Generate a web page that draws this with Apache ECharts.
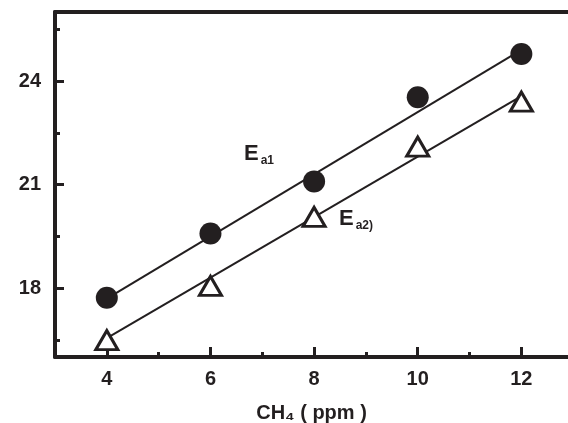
<!DOCTYPE html>
<html>
<head>
<meta charset="utf-8">
<script src="https://cdn.jsdelivr.net/npm/echarts@6/dist/echarts.min.js"></script>
<style>html,body{margin:0;padding:0;background:#fff}#c{width:568px;height:423px}</style>
</head>
<body>
<div id="c"></div>
<script>
// Data
var xValues = [4, 6, 8, 10, 12];
var filledCircles = [17.72, 19.58, 21.09, 23.53, 24.78];
var openTriangles = [16.49, 18.06, 20.06, 22.10, 23.40];
var upperLineEnds = [[4, 17.69], [12, 24.90]];
var lowerLineEnds = [[4, 16.55], [12, 23.56]];
var xTickLabels = [4, 6, 8, 10, 12];
var xMinorTicks = [5, 7, 9, 11];
var yTickLabels = [18, 21, 24];
var yMinorTicks = [16.5, 19.5, 22.5, 25.5];
var xAxisName = 'CH\u2084 ( ppm )';
var label1 = ['E', 'a1'];
var label2 = ['E', 'a2)'];

function pairs(xs, ys) { return xs.map(function (x, i) { return [x, ys[i]]; }); }

var chart = echarts.init(document.getElementById('c'), null, { renderer: 'canvas' });
var black = '#231f20';
var font = 'Liberation Sans';
var option = {
  backgroundColor: '#fff',
  animation: false,
  grid: { left: 55, right: 0, top: 12, bottom: 66, containLabel: false, outerBoundsMode: 'none' },
  xAxis: [
    {
      type: 'value', position: 'bottom', min: 3, max: 12.9,
      axisLine: { show: true, lineStyle: { color: black, width: 4 } },
      axisTick: { show: true, inside: true, length: 10, lineStyle: { color: black, width: 3 }, customValues: xTickLabels },
      axisLabel: { show: true, customValues: xTickLabels, margin: 12, color: black, fontSize: 20, fontWeight: 'bold', fontFamily: font },
      splitLine: { show: false },
      name: xAxisName, nameLocation: 'middle', nameGap: 46,
      nameTextStyle: { color: black, fontSize: 20, fontWeight: 'bold', fontFamily: font }
    },
    {
      type: 'value', position: 'bottom', offset: 0, min: 3, max: 12.9,
      axisLine: { show: false },
      axisTick: { show: true, inside: true, length: 5, lineStyle: { color: black, width: 3 }, customValues: xMinorTicks },
      axisLabel: { show: false }, splitLine: { show: false }
    },
    {
      type: 'value', position: 'top', min: 3, max: 12.9,
      axisLine: { show: true, lineStyle: { color: black, width: 4 } },
      axisTick: { show: false }, axisLabel: { show: false }, splitLine: { show: false }
    }
  ],
  yAxis: [
    {
      type: 'value', position: 'left', min: 16, max: 26,
      axisLine: { show: true, lineStyle: { color: black, width: 4 } },
      axisTick: { show: true, inside: true, length: 9, lineStyle: { color: black, width: 3 }, customValues: yTickLabels },
      axisLabel: { show: true, customValues: yTickLabels, margin: 14, color: black, fontSize: 20, fontWeight: 'bold', fontFamily: font },
      splitLine: { show: false }
    },
    {
      type: 'value', position: 'left', offset: 0, min: 16, max: 26,
      axisLine: { show: false },
      axisTick: { show: true, inside: true, length: 5, lineStyle: { color: black, width: 3 }, customValues: yMinorTicks },
      axisLabel: { show: false }, splitLine: { show: false }
    }
  ],
  graphic: [
    {
      type: 'text', left: 244, top: 143, z: 10,
      style: {
        text: '{e|' + label1[0] + '}{s|' + label1[1] + '}',
        rich: {
          e: { fontSize: 22, fontFamily: font, fill: black, fontWeight: 'bold' },
          s: { fontSize: 12, fontFamily: font, fill: black, fontWeight: 'bold', verticalAlign: 'bottom', padding: [14, 0, 0, 2] }
        }
      }
    },
    {
      type: 'text', left: 339, top: 208, z: 10,
      style: {
        text: '{e|' + label2[0] + '}{s|' + label2[1] + '}',
        rich: {
          e: { fontSize: 22, fontFamily: font, fill: black, fontWeight: 'bold' },
          s: { fontSize: 12, fontFamily: font, fill: black, fontWeight: 'bold', verticalAlign: 'bottom', padding: [14, 0, 0, 2] }
        }
      }
    }
  ],
  series: [
    {
      type: 'line', xAxisIndex: 0, yAxisIndex: 0, data: upperLineEnds,
      symbol: 'none', lineStyle: { color: black, width: 2 }, z: 1, silent: true
    },
    {
      type: 'line', xAxisIndex: 0, yAxisIndex: 0, data: lowerLineEnds,
      symbol: 'none', lineStyle: { color: black, width: 2 }, z: 1, silent: true
    },
    {
      type: 'scatter', xAxisIndex: 0, yAxisIndex: 0, data: pairs(xValues, filledCircles),
      symbol: 'circle', symbolSize: 22, itemStyle: { color: black, opacity: 1 }, z: 3
    },
    {
      type: 'scatter', xAxisIndex: 0, yAxisIndex: 0, data: pairs(xValues, openTriangles),
      symbol: 'triangle', symbolSize: [22, 19],
      itemStyle: { color: '#fff', borderColor: black, borderWidth: 3, opacity: 1 }, z: 3
    }
  ]
};
chart.setOption(option);
</script>
</body>
</html>
